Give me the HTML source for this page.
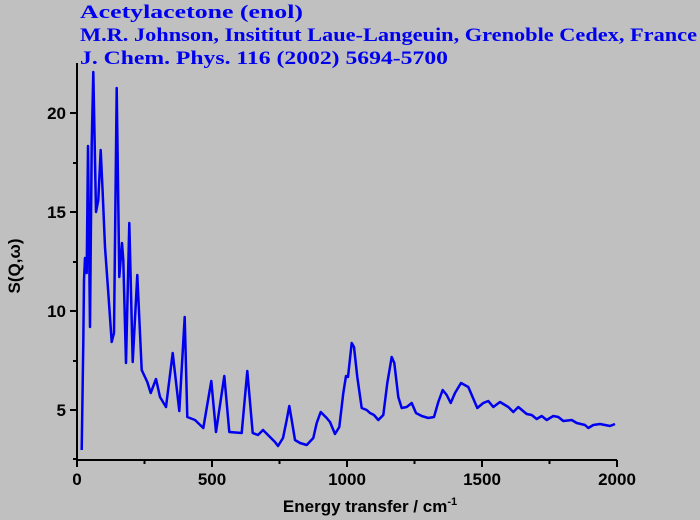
<!DOCTYPE html>
<html><head><style>body{margin:0;background:#c0c0c0;}</style></head><body>
<svg width="700" height="520" xmlns="http://www.w3.org/2000/svg" style="display:block">
<rect width="700" height="520" fill="#c0c0c0"/>
<g font-family="Liberation Serif, serif" font-weight="bold" font-size="19" fill="#0000ee">
<text x="80" y="18" textLength="223" lengthAdjust="spacingAndGlyphs">Acetylacetone (enol)</text>
<text x="80" y="41" textLength="617" lengthAdjust="spacingAndGlyphs">M.R. Johnson, Insititut Laue-Langeuin, Grenoble Cedex, France</text>
<text x="80" y="64" textLength="368" lengthAdjust="spacingAndGlyphs">J. Chem. Phys. 116 (2002) 5694-5700</text>
</g>
<g stroke="#000" stroke-width="2" fill="none">
<path d="M77,63 V460 H617"/>
<path d="M77,113 h-7 M77,212 h-7 M77,311 h-7 M77,410 h-7 M77,163 h-4 M77,262 h-4 M77,361 h-4 M77,459 h-4"/>
<path d="M77,460 v7 M212,460 v7 M347,460 v7 M482,460 v7 M617,460 v7 M144.5,460 v4 M279.5,460 v4 M414.5,460 v4 M549.5,460 v4"/>
</g>
<g font-family="Liberation Sans, sans-serif" font-weight="bold" font-size="17" fill="#000">
<text x="66" y="119" text-anchor="end">20</text>
<text x="66" y="218" text-anchor="end">15</text>
<text x="66" y="317" text-anchor="end">10</text>
<text x="66" y="416" text-anchor="end">5</text>
<text x="77" y="485" text-anchor="middle">0</text>
<text x="212" y="485" text-anchor="middle">500</text>
<text x="347" y="485" text-anchor="middle">1000</text>
<text x="482" y="485" text-anchor="middle">1500</text>
<text x="617" y="485" text-anchor="middle">2000</text>
<text x="370" y="512" text-anchor="middle">Energy transfer / cm<tspan dy="-7" font-size="11">-1</tspan></text>
<text transform="translate(20,266) rotate(-90)" text-anchor="middle">S(Q,ω)</text>
</g>
<polyline fill="none" stroke="#0000ee" stroke-width="2.5" stroke-linejoin="round" points="81.7,450 83.3,343 84,280 85,258 86.7,273 88,146 90,327 91.7,145 93.3,72 96,212 98.3,200 100.7,150 102.7,193 105,247 108.3,293 111.7,342 114,333 116.7,88 119.3,277 122,243 123.3,260 126,363 129.3,223 132.7,362 137.3,275 141.7,370 147.3,382 150.7,393 156,379 160,397 166,407 172.7,353 179.3,411 184.7,317 187.3,417 195,420 203.3,428 211.3,381 216,432 224.3,376 229.3,432 241.7,433 247.3,371 252.7,433 258,435 263,430 268,435 275,442 278,446 283,438 286.7,420 289.3,406 291.7,420 295,440 300,443 306.7,445 313.3,438 316.7,423 320.7,412 326.7,418 330,422 335,434 339.3,427 343.3,393 346,376 348,377 351.7,343 354,347 357.3,377 361.7,408 366.7,410 370,413 374,415 378.3,420 383.3,415 387.3,383 391.7,357 394.3,363 398.3,397 401.7,408 406.7,407 411.7,403 416,413 421.7,416 428.3,418 434,417 438.3,402 442.7,390 446.7,395 450.7,403 455,393 461,383 468.3,387 477.3,408 483.3,403 488.3,401 493.3,407 500,402 508.3,407 513.3,412 518.3,407 526.7,414 531.7,415 536.7,419 541.7,416 546.7,420 553.3,416 558.3,417 563.3,421 571.7,420 576.7,423 585,425 588.3,428 593.3,425 600,424 605,425 610,426 615,424"/>
</svg>
</body></html>
